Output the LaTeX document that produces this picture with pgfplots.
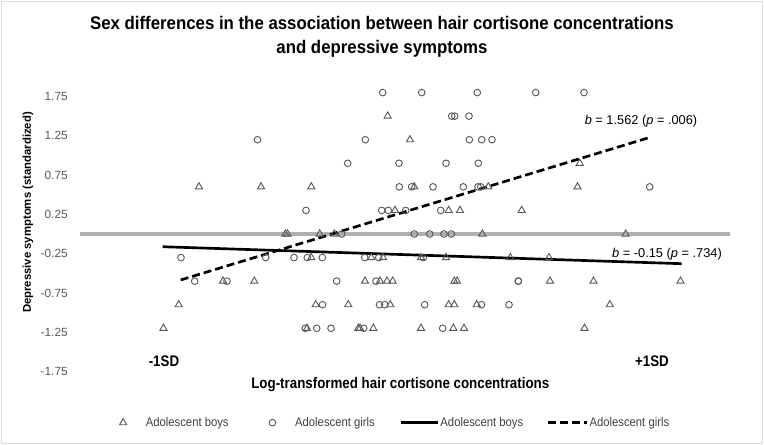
\documentclass[border=0pt]{standalone}
\usepackage{pgfplots}
\pgfplotsset{compat=1.18}
\usepackage{pgfplotstable}
\usepackage{fontspec}
\setmainfont{Liberation Sans}
\newfontfamily\titlefont[FakeStretch=0.92]{Liberation Sans}
\newfontfamily\narrowfont[FakeStretch=0.87]{Liberation Sans}
\newfontfamily\legfont[FakeStretch=0.9]{Liberation Sans}
\definecolor{markgray}{RGB}{89,89,89}
\definecolor{txtgray}{RGB}{89,89,89}
\definecolor{legtxt}{RGB}{64,64,64}
\definecolor{zerogray}{RGB}{175,175,175}
\definecolor{framecol}{RGB}{214,222,232}

\pgfplotsset{
  scatterleg/.style={legend image code/.code={\draw[mark repeat=2,mark phase=2,##1] plot coordinates {(0pt,0pt) (3pt,0pt) (6pt,0pt)}; \path (0pt,0pt) (19.7pt,0pt);}},
  solidleg/.style={legend image code/.code={\draw[##1] (0pt,0pt) -- (27.75pt,0pt); \path (28.5pt,0pt);}},
  dashleg/.style={legend image code/.code={\draw[##1] (0pt,0pt) -- (29.5pt,0pt); \path (30.5pt,0pt);}},
}

\pgfplotstableread{
x y
387.7 1.5
410 1.2
579.7 0.9
199 0.6
261 0.6
311.3 0.6
414.3 0.6
488.3 0.6
577.5 0.6
395 0.3
448.7 0.3
460 0.3
521.7 0.3
285.3 0
287.5 0
319.7 0
334.3 0
482.3 0
625.7 0
311.3 -0.3
371.3 -0.3
383 -0.3
421 -0.3
446 -0.3
510.3 -0.3
549 -0.3
223 -0.6
254.3 -0.6
365 -0.6
380 -0.6
387 -0.6
392.7 -0.6
454.3 -0.6
457 -0.6
550 -0.6
593.5 -0.6
680.5 -0.6
178.7 -0.9
315.7 -0.9
348.3 -0.9
390.3 -0.9
448.7 -0.9
454.3 -0.9
476.7 -0.9
609.8 -0.9
163.5 -1.2
307 -1.2
358.3 -1.2
360 -1.2
373.3 -1.2
421 -1.2
453.3 -1.2
464 -1.2
584.5 -1.2
}\boys

\pgfplotstableread{
x y
382.7 1.8
421.7 1.8
477.3 1.8
535.7 1.8
584 1.8
451.7 1.5
454.7 1.5
469 1.5
257.5 1.2
365.3 1.2
469.3 1.2
481.7 1.2
492 1.2
347.7 0.9
399 0.9
446 0.9
478.3 0.9
399.3 0.6
411.7 0.6
433 0.6
463.3 0.6
478 0.6
480.7 0.6
649.7 0.6
306 0.3
381.7 0.3
388.3 0.3
405.7 0.3
440.7 0.3
341.7 0
414.3 0
429.7 0
444 0
451.3 0
181 -0.3
265.7 -0.3
294 -0.3
307.3 -0.3
322.3 -0.3
364.7 -0.3
378.7 -0.3
423.3 -0.3
194.7 -0.6
227 -0.6
336.7 -0.6
376 -0.6
518.3 -0.6
518.3 -0.6
322.5 -0.9
379.5 -0.9
384.8 -0.9
424.7 -0.9
481.5 -0.9
509 -0.9
305.3 -1.2
316.7 -1.2
331 -1.2
363.7 -1.2
442.7 -1.2
}\girls

\begin{document}
\begin{tikzpicture}
\path[use as bounding box] (0,0) rectangle (573pt,-333.75pt);
\begin{scope}[x=0.75pt,y=-0.75pt]
\draw[framecol, line width=0.75pt] (1.5,1.5) rectangle (762.5,443.5);
\end{scope}
\begin{axis}[
  at={(60pt,-278.625pt)}, anchor=south west,
  scale only axis, width=487.5pt, height=215.1pt,
  xmin=80, xmax=730, ymin=-1.75, ymax=1.9,
  clip=false,
  axis line style={draw=none},
  major tick length=0pt,
  tick style={draw=none},
  xtick=\empty,
  ytick={-1.75,-1.25,-0.75,-0.25,0.25,0.75,1.25,1.75},
  yticklabels={-1.75,-1.25,-0.75,-0.25,0.25,0.75,1.25,1.75},
  yticklabel style={font=\fontsize{8.9}{10}\selectfont, text=txtgray, anchor=east, inner sep=0pt},
  yticklabel shift=9pt,
  legend columns=4,
  legend style={at={(0.0595,-0.1785)}, anchor=west, draw=none, fill=none,
    inner sep=0pt, outer sep=0pt,
    font=\legfont\fontsize{9.4}{11}\selectfont, text=legtxt,
    nodes={inner sep=0pt},
    /tikz/column sep=0pt,
    /tikz/column 2/.style={column sep=29.5pt},
    /tikz/column 4/.style={column sep=18.75pt},
    /tikz/column 6/.style={column sep=17.25pt}},
  legend cell align=left,
]
\addplot[draw=zerogray, line width=2.4pt, forget plot] coordinates {(80,0) (730,0)};
\addplot[only marks, mark=triangle, mark size=3.1pt, draw=markgray, line width=0.7pt, scatterleg]
  table[x=x,y=y] {\boys};
\addlegendentry{Adolescent boys}
\addplot[only marks, mark=o, mark size=2.5pt, draw=markgray, line width=0.7pt, scatterleg]
  table[x=x,y=y] {\girls};
\addlegendentry{Adolescent girls}
\addplot[black, line width=2pt, no marks, solidleg]
  coordinates {(162.7,-0.162) (681.7,-0.378)};
\addlegendentry{Adolescent boys}
\addplot[black, line width=2pt, no marks, dash pattern=on 6pt off 3pt, dashleg]
  coordinates {(180.7,-0.585) (651,1.234)};
\addlegendentry{Adolescent girls}
\node[font=\fontsize{9.6}{11}\selectfont] at (axis cs:641,1.438) {\textit{b} = 1.562 (\textit{p} = .006)};
\node[font=\fontsize{9.6}{11}\selectfont] at (axis cs:667,-0.258) {\textit{b} = -0.15 (\textit{p} = .734)};
\node[font=\narrowfont\bfseries\fontsize{11.5}{13}\selectfont] at (axis cs:164,-1.616) {-1SD};
\node[font=\narrowfont\bfseries\fontsize{11.5}{13}\selectfont] at (axis cs:652,-1.616) {+1SD};
\end{axis}
\begin{scope}[x=0.75pt,y=-0.75pt]
\node[font=\titlefont\bfseries\fontsize{13.7}{16}\selectfont] at (382,23.4) {Sex differences in the association between hair cortisone concentrations};
\node[font=\titlefont\bfseries\fontsize{13.7}{16}\selectfont] at (382,48.8) {and depressive symptoms};
\node[font=\narrowfont\bfseries\fontsize{11.5}{13}\selectfont] at (400.3,384.3) {Log-transformed hair cortisone concentrations};
\node[font=\bfseries\fontsize{8.5}{10}\selectfont, rotate=90] at (28,212.5) {Depressive symptoms (standardized)};
\end{scope}
\end{tikzpicture}
\end{document}
